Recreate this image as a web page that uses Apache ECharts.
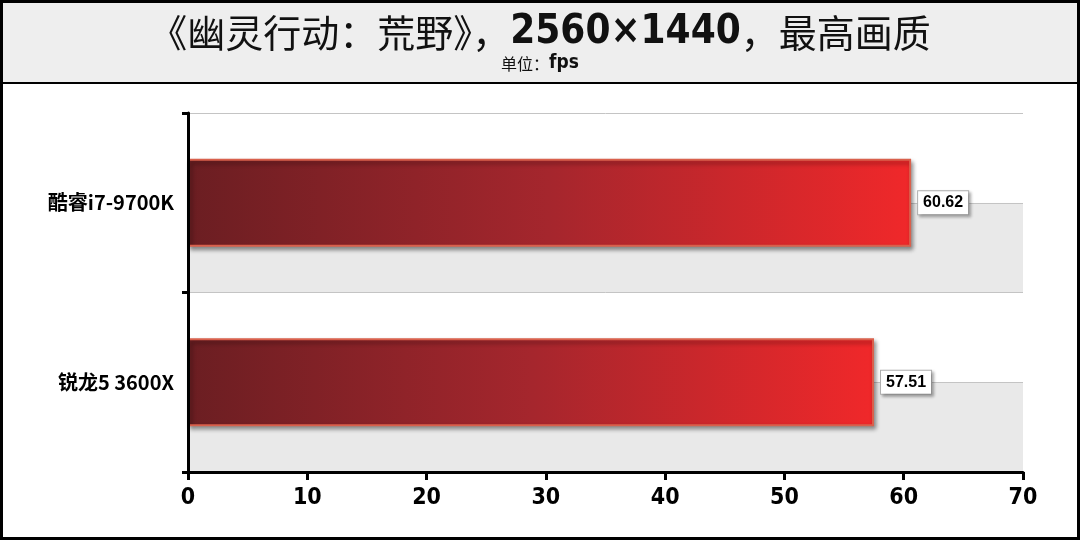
<!DOCTYPE html>
<html>
<head>
<meta charset="utf-8">
<script src="https://cdn.jsdelivr.net/npm/echarts@6/dist/echarts.min.js"></script>
<style>
  html, body { margin: 0; padding: 0; background: #fff; }
  #chart { width: 1080px; height: 540px; }
</style>
</head>
<body>
<div id="chart"></div>
<script>
// 数据
const cpuNames = ['酷睿i7-9700K', '锐龙5 3600X'];
const fpsValues = [60.62, 57.51];
const xTicks = [0, 10, 20, 30, 40, 50, 60, 70];

const narrow = "'DejaVu Sans Condensed', 'Liberation Sans Narrow', 'Liberation Sans', sans-serif";
const cjk = "'Noto Sans CJK SC', 'Liberation Sans', sans-serif";

const chart = echarts.init(document.getElementById('chart'));

const option = {
  backgroundColor: '#fff',
  animation: false,
  graphic: [
    { type: 'rect', z: -10, shape: { x: 0, y: 0, width: 1080, height: 83 }, style: { fill: '#eeeeee' } },
    { type: 'line', shape: { x1: 0, y1: 83, x2: 1080, y2: 83 }, style: { stroke: '#000', lineWidth: 2 } },
    { type: 'rect', shape: { x: 1.5, y: 1.5, width: 1077, height: 537 }, style: { fill: 'none', stroke: '#000', lineWidth: 3 } }
  ],
  title: {
    text: '{n|《幽灵行动：荒野》，}{b|2560×1440}{n|，最高画质}',
    subtext: '{n|单位：}{b|fps}',
    left: 'center',
    top: 8,
    itemGap: 1,
    textStyle: {
      rich: {
        n: { fontFamily: cjk, fontSize: 38, fontWeight: 'normal', color: '#111' },
        b: { fontFamily: narrow, fontSize: 40, fontWeight: 'bold', color: '#111' }
      }
    },
    subtextStyle: {
      rich: {
        n: { fontFamily: cjk, fontSize: 16, fontWeight: 'normal', color: '#111' },
        b: { fontFamily: narrow, fontSize: 19, fontWeight: 'bold', color: '#111' }
      }
    }
  },
  grid: { left: 188, right: 57, top: 113, bottom: 68 },
  xAxis: {
    type: 'value',
    min: xTicks[0],
    max: xTicks[xTicks.length - 1],
    interval: xTicks[1] - xTicks[0],
    axisLine: { show: true, lineStyle: { color: '#000', width: 3 } },
    axisTick: { show: true, length: 8, lineStyle: { color: '#000', width: 3 } },
    axisLabel: { color: '#000', fontFamily: narrow, fontWeight: 'bold', fontSize: 23, margin: 15 },
    splitLine: { show: false }
  },
  yAxis: [
    {
      type: 'category',
      inverse: true,
      data: cpuNames,
      axisLine: { show: true, lineStyle: { color: '#000', width: 3 } },
      axisTick: { show: true, length: 6, lineStyle: { color: '#000', width: 3 } },
      axisLabel: { color: '#000', fontFamily: cjk, fontWeight: 'bold', fontSize: 20, margin: 14 },
      z: 5
    },
    {
      // 背景条纹与网格线
      type: 'value',
      position: 'right',
      min: 0,
      max: 4,
      interval: 1,
      axisLine: { show: false },
      axisTick: { show: false },
      axisLabel: { show: false },
      splitLine: { show: true, lineStyle: { color: '#c4c4c4', width: 1 } },
      splitArea: { show: true, areaStyle: { color: ['#e9e9e9', '#ffffff'] } }
    }
  ],
  series: [
    {
      type: 'bar',
      data: fpsValues,
      barWidth: 88,
      itemStyle: {
        color: new echarts.graphic.LinearGradient(0, 0, 1, 0, [
          { offset: 0, color: '#6b1e22' },
          { offset: 0.5, color: '#a5262d' },
          { offset: 1, color: '#f0282a' }
        ]),
        borderColor: '#d9604c',
        borderWidth: 2,
        shadowColor: 'rgba(0,0,0,0.4)',
        shadowBlur: 4,
        shadowOffsetX: 2,
        shadowOffsetY: 3
      },
      label: {
        show: true,
        position: 'right',
        distance: 7,
        formatter: p => p.value.toFixed(2),
        color: '#000',
        fontFamily: "'Liberation Sans', Arial, sans-serif",
        fontWeight: 'bold',
        fontSize: 16,
        backgroundColor: '#fff',
        borderColor: '#b0b0b0',
        borderWidth: 1,
        padding: [4, 5, 3, 5],
        shadowColor: 'rgba(0,0,0,0.3)',
        shadowBlur: 3,
        shadowOffsetX: 2,
        shadowOffsetY: 2
      }
    }
  ]
};

chart.setOption(option);
</script>
</body>
</html>
